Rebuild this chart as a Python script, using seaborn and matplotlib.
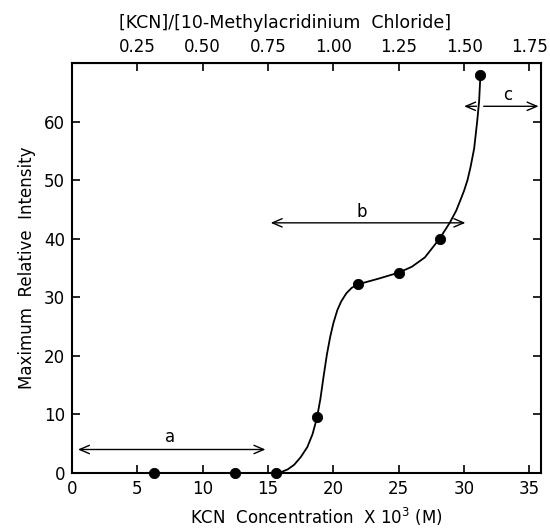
import numpy as np
import pandas as pd
import matplotlib
matplotlib.use("Agg")
import matplotlib.pyplot as plt
import seaborn as sns

# measured points (KCN concentration x 10^3 M, max relative intensity)
conc = [6.25, 12.5, 15.625, 18.75, 21.875, 25.0, 28.125, 31.25]
intensity = [0, 0, 0, 9.5, 32.2, 34.2, 40.0, 68.0]

# hand drawn curve
curve_x = [6.25, 15.625, 16.0, 16.5, 17.0, 17.5, 18.0, 18.4, 18.75, 19.0,
           19.25, 19.5, 19.75, 20.0, 20.3, 20.6, 21.0, 21.4, 21.875, 23.5,
           25.0, 26.0, 27.0, 28.125, 28.9, 29.4, 29.74, 30.0, 30.26, 30.5,
           30.77, 31.0, 31.15, 31.25]
curve_y = [0, 0, 0.15, 0.6, 1.4, 2.7, 4.4, 6.6, 9.5, 12.6,
           16.5, 20.2, 23.2, 25.6, 27.8, 29.3, 30.7, 31.6, 32.2, 33.2,
           34.2, 35.2, 36.8, 40.0, 42.7, 44.8, 46.7, 48.2, 50.0, 52.3,
           55.4, 60.0, 63.5, 68.0]

# concentration ranges marked on the chart: (label, start, end, height)
range_arrows = [
    ("a", 0.45, 14.8, 4.0),
    ("b", 15.2, 30.1, 42.7),
]
# range c is split by the curve
c_left = (30.95, 30.0, 62.6)
c_right = (31.5, 35.7, 62.6)
labels_pos = {"a": (7.5, 6.2), "b": (22.2, 44.6), "c": (33.3, 64.6)}

top_ticks = [0.25, 0.50, 0.75, 1.00, 1.25, 1.50, 1.75]
x_ticks = [0, 5, 10, 15, 20, 25, 30, 35]
y_ticks = [0, 10, 20, 30, 40, 50, 60]

sns.set_style("ticks")
plt.rcParams['font.family'] = ['DejaVu Sans']
plt.rcParams['text.color'] = 'black'
plt.rcParams['axes.labelcolor'] = 'black'
plt.rcParams['xtick.color'] = 'black'
plt.rcParams['ytick.color'] = 'black'

fig = plt.figure(figsize=(5.5, 5.29), dpi=100)
ax = fig.add_axes([0.131, 0.106, 0.853, 0.775])

curve = pd.DataFrame({"x": curve_x, "y": curve_y})
pts = pd.DataFrame({"x": conc, "y": intensity})
sns.lineplot(data=curve, x="x", y="y", sort=False, estimator=None,
             color="black", linewidth=1.3, ax=ax)
sns.scatterplot(data=pts, x="x", y="y", color="black", s=55,
                edgecolor="black", zorder=5, ax=ax, clip_on=False)

arrow_kw = dict(color="black", lw=1.0, shrinkA=0, shrinkB=0)
for name, x0, x1, h in range_arrows:
    ax.annotate("", xy=(x1, h), xytext=(x0, h),
                arrowprops=dict(arrowstyle="<->,head_length=0.7,head_width=0.3", **arrow_kw))
for x0, x1, h in [c_left, c_right]:
    ax.annotate("", xy=(x1, h), xytext=(x0, h),
                arrowprops=dict(arrowstyle="->,head_length=0.7,head_width=0.3", **arrow_kw))
for name, (lx, ly) in labels_pos.items():
    ax.text(lx, ly, name, ha="center", va="center", fontsize=12)

ax.set_xlim(0, 35.9)
ax.set_ylim(0, 70)
ax.set_xticks(x_ticks)
ax.set_yticks(y_ticks)
ax.tick_params(direction="in", length=6, width=1.2, labelsize=12,
               top=False, right=True, pad=5)
for sp in ax.spines.values():
    sp.set_linewidth(1.5)
    sp.set_color("black")

ax.set_xlabel("KCN  Concentration  X 10$^3$ (M)", fontsize=12, labelpad=6)
ax.xaxis.label.set_x(0.52)
ax.set_ylabel("Maximum  Relative  Intensity", fontsize=12, labelpad=6)

sec = ax.secondary_xaxis("top", functions=(lambda x: x / 20.0, lambda r: r * 20.0))
sec.set_xticks(top_ticks)
sec.set_xticklabels([f"{t:.2f}" for t in top_ticks])
sec.tick_params(direction="in", length=6, width=1.2, labelsize=12, pad=5)
sec.set_xlabel("[KCN]/[10-Methylacridinium  Chloride]", fontsize=12.5, labelpad=7)
sec.xaxis.label.set_x(0.455)

fig.savefig("out.png", dpi=100)
